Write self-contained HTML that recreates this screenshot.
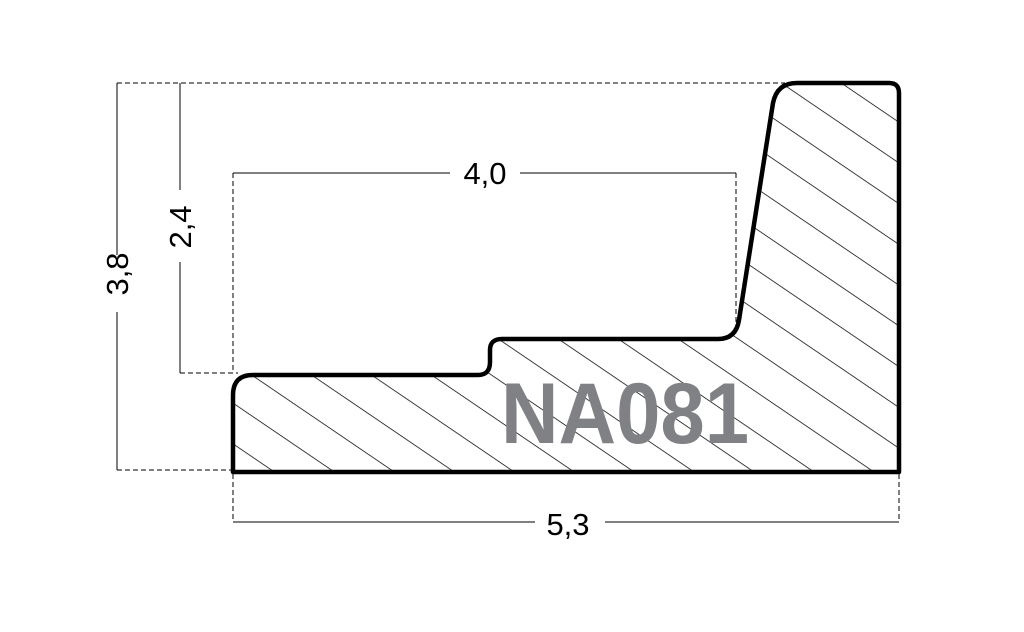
<!DOCTYPE html>
<html><head><meta charset="utf-8"><style>html,body{margin:0;padding:0;background:#fff}svg{display:block}</style></head>
<body>
<svg width="1024" height="632" viewBox="0 0 1024 632" xmlns="http://www.w3.org/2000/svg">
<defs>
<pattern id="h" patternUnits="userSpaceOnUse" width="20" height="33.7" patternTransform="translate(515,472) rotate(34.2)">
<line x1="-5" y1="0" x2="25" y2="0" stroke="#000" stroke-width="1.4"/>
</pattern>
<clipPath id="c"><path d="M233,472 L233,395 Q233,375 253,375 L478,375 Q490,375 490,362 L490,350 Q490,339 502,339 L718,339 Q736,339 739,320 L773,103 Q777,83 797,83 L889,83 Q899,83 899,93 L899,472 Z"/></clipPath>
</defs>
<rect x="200" y="60" width="720" height="430" fill="url(#h)" clip-path="url(#c)"/>
<text x="625" y="443" font-family="Liberation Sans, sans-serif" font-weight="bold" font-size="86" fill="#808184" text-anchor="middle" textLength="248" lengthAdjust="spacingAndGlyphs">NA081</text>
<path d="M233,472 L233,395 Q233,375 253,375 L478,375 Q490,375 490,362 L490,350 Q490,339 502,339 L718,339 Q736,339 739,320 L773,103 Q777,83 797,83 L889,83 Q899,83 899,93 L899,472 Z" fill="none" stroke="#000" stroke-width="4.5" stroke-linejoin="round"/>
<g stroke="#000" stroke-width="1" fill="none">
<path d="M117,83 H785 M117,470 H231 M180,373 H238 M233,173 V373 M736,173 V322 M233,474 V522 M899,474 V522" stroke-dasharray="5,3"/>
<path d="M117,83 V255 M117,312 V470 M180,83 V190 M180,262 V373 M233,173 H450 M520,173 H736 M233,522 H535 M605,522 H899"/>
</g>
<g font-family="Liberation Sans, sans-serif" font-size="31" fill="#000" text-anchor="middle">
<text x="485" y="184">4,0</text>
<text x="568" y="535">5,3</text>
<text transform="translate(191,227) rotate(-90)">2,4</text>
<text transform="translate(128,274) rotate(-90)">3,8</text>
</g>
</svg>
</body></html>
